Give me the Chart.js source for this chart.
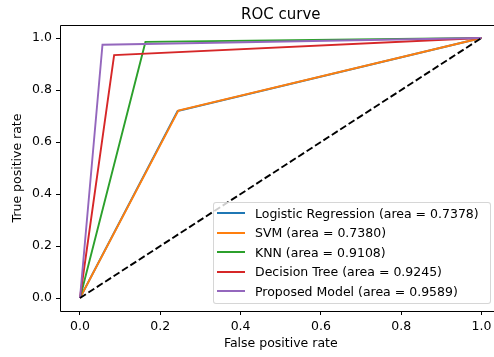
<!DOCTYPE html>
<html>
<head>
<meta charset="utf-8">
<script src="https://cdn.jsdelivr.net/npm/chart.js@4/dist/chart.umd.min.js"></script>
<style>
html, body { margin: 0; padding: 0; background: #fff; }
#wrap { position: relative; width: 494px; height: 357px; }
#legend {
  position: absolute; left: 213px; top: 202px; width: 278px; height: 102px;
  box-sizing: border-box; border: 1px solid rgba(204,204,204,0.8); border-radius: 3px;
  background: rgba(255,255,255,0.8);
  font-family: "DejaVu Sans"; font-size: 12.5px; color: #000;
}
#legend .row { position: absolute; left: 3px; height: 16px; display: flex; align-items: center; white-space: nowrap; }
#legend .sw { width: 28px; height: 2px; margin-right: 10px; }
</style>
</head>
<body>
<div id="wrap">
  <canvas id="rocChart" width="494" height="357"></canvas>
  <div id="legend"></div>
</div>
<script>
// models and their AUC values
var modelNames = ['Logistic Regression', 'SVM', 'KNN', 'Decision Tree', 'Proposed Model'];
var aucValues = [0.7378, 0.7380, 0.9108, 0.9245, 0.9589];
var lineColors = ['#1f77b4', '#ff7f0e', '#2ca02c', '#d62728', '#9467bd'];

// ROC points (false positive rate / true positive rate)
var fprLogReg = [0, 0.243, 1];
var tprLogReg = [0, 0.719, 1];
var fprSvm = [0, 0.245, 1];
var tprSvm = [0, 0.721, 1];
var fprKnn = [0, 0.163, 1];
var tprKnn = [0, 0.985, 1];
var fprTree = [0, 0.085, 1];
var tprTree = [0, 0.934, 1];
var fprProposed = [0, 0.056, 1];
var tprProposed = [0, 0.974, 1];

// chance line
var chanceX = [0, 1];
var chanceY = [0, 1];

var tickValues = [0, 0.2, 0.4, 0.6, 0.8, 1.0];

var chartTitle = 'ROC curve';
var xTitle = 'False positive rate';
var yTitle = 'True positive rate';

var fprList = [fprLogReg, fprSvm, fprKnn, fprTree, fprProposed];
var tprList = [tprLogReg, tprSvm, tprKnn, tprTree, tprProposed];

function toPoints(xs, ys) {
  return xs.map(function (x, i) { return { x: x, y: ys[i] }; });
}

var datasets = modelNames.map(function (name, i) {
  return {
    label: name + ' (area = ' + aucValues[i].toFixed(4) + ')',
    data: toPoints(fprList[i], tprList[i]),
    borderColor: lineColors[i],
    borderWidth: 1.9,
    showLine: true,
    pointRadius: 0,
    order: modelNames.length - i
  };
});
datasets.push({
  label: 'chance',
  data: toPoints(chanceX, chanceY),
  borderColor: '#000',
  borderWidth: 1.9,
  borderDash: [7, 3],
  showLine: true,
  pointRadius: 0,
  order: 0
});

// matplotlib style frame (top, left, bottom spines; right one is off the canvas)
// plus the title and x label, centred on the full axes (x = 0.5) like matplotlib
var framePlugin = {
  id: 'frame',
  afterDraw: function (chart) {
    var a = chart.chartArea, c = chart.ctx;
    var xs = chart.scales.x;
    var mid = xs.getPixelForValue(0.5);
    c.save();
    c.strokeStyle = '#000';
    c.lineWidth = 1;
    c.beginPath();
    c.moveTo(a.right + 1, Math.round(a.top) + 0.5);
    c.lineTo(Math.round(a.left) + 0.5, Math.round(a.top) + 0.5);
    c.lineTo(Math.round(a.left) + 0.5, Math.round(a.bottom) + 0.5);
    c.lineTo(a.right + 1, Math.round(a.bottom) + 0.5);
    c.stroke();

    c.fillStyle = '#000';
    c.textAlign = 'center';
    c.textBaseline = 'alphabetic';
    c.font = '15px "DejaVu Sans"';
    c.fillText(chartTitle, mid, 19);
    c.font = '12.5px "DejaVu Sans"';
    c.fillText(xTitle, mid, 347);
    c.restore();
  }
};

var fontBase = { family: 'DejaVu Sans', size: 12.5 };

var ctx = document.getElementById('rocChart').getContext('2d');
var rocChart = new Chart(ctx, {
  type: 'scatter',
  data: { datasets: datasets },
  options: {
    responsive: false,
    animation: false,
    layout: { padding: { top: 25, left: 0, right: 0, bottom: 0 } },
    plugins: {
      legend: { display: false },
      tooltip: { enabled: false },
      title: { display: false }
    },
    scales: {
      x: {
        type: 'linear',
        min: -0.0498,
        max: 1.0311,
        afterBuildTicks: function (s) { s.ticks = tickValues.map(function (v) { return { value: v }; }); },
        afterFit: function (s) { s.height = 46; s.paddingLeft = 0; s.paddingRight = 0; },
        grid: { display: true, drawOnChartArea: false, drawTicks: true, tickLength: 4, color: '#000', lineWidth: 1 },
        border: { display: false },
        ticks: { color: '#000', font: fontBase, padding: 4, maxRotation: 0, callback: function (v) { return v.toFixed(1); } }
      },
      y: {
        type: 'linear',
        min: -0.05,
        max: 1.05,
        afterBuildTicks: function (s) { s.ticks = tickValues.map(function (v) { return { value: v }; }); },
        afterFit: function (s) { s.width = 60; s.paddingTop = 0; s.paddingBottom = 0; },
        grid: { display: true, drawOnChartArea: false, drawTicks: true, tickLength: 4, color: '#000', lineWidth: 1 },
        border: { display: false },
        ticks: { color: '#000', font: fontBase, padding: 4, callback: function (v) { return v.toFixed(1); } },
        title: { display: true, text: yTitle, color: '#000', font: fontBase, padding: { top: 10, bottom: 0 } }
      }
    }
  },
  plugins: [framePlugin]
});

// legend inside the plot, lower right
var legendEl = document.getElementById('legend');
modelNames.forEach(function (name, i) {
  var row = document.createElement('div');
  row.className = 'row';
  row.style.top = (2 + i * 19.6) + 'px';
  var sw = document.createElement('span');
  sw.className = 'sw';
  sw.style.background = lineColors[i];
  var txt = document.createElement('span');
  txt.textContent = name + ' (area = ' + aucValues[i].toFixed(4) + ')';
  row.appendChild(sw);
  row.appendChild(txt);
  legendEl.appendChild(row);
});
</script>
</body>
</html>
